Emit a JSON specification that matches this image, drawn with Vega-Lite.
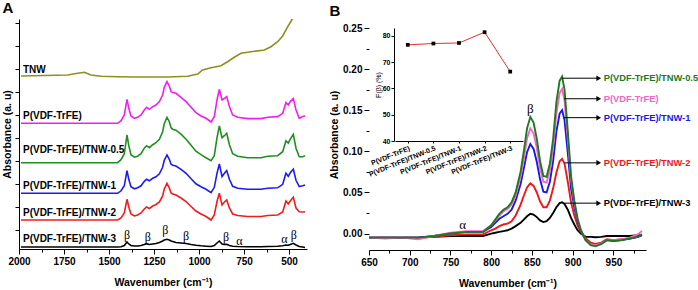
{
  "$schema": "https://vega.github.io/schema/vega-lite/v6.json",
  "padding": {"left": 2, "top": 0, "right": 0, "bottom": 0},
  "config": {
    "font": "Liberation Sans",
    "view": {"stroke": null},
    "axis": {"labelFontWeight": "bold", "titleFontWeight": "bold", "labelColor": "#000", "titleColor": "#000", "domainColor": "#000", "tickColor": "#000", "grid": false, "labelFontSize": 10, "titleFontSize": 10.5},
    "title": {"color": "#000"}
  },
  "datasets": {
    "a5": [
      {"w":1989,"P":12.57,"P05":8.63,"P1":5.57,"P2":2.9,"P3":0.2},
      {"w":1452,"P":12.57,"P05":8.63,"P1":5.57,"P2":2.9,"P3":0.2},
      {"w":1433,"P":12.84,"P05":8.93,"P1":5.82,"P2":3.1,"P3":0.23},
      {"w":1415,"P":13.4,"P05":9.53,"P1":6.32,"P2":3.6,"P3":0.35},
      {"w":1400,"P":14.97,"P05":11.4,"P1":7.84,"P2":4.97,"P3":0.7},
      {"w":1390,"P":14.07,"P05":10.33,"P1":6.97,"P2":4.2,"P3":0.5},
      {"w":1378,"P":13.3,"P05":9.43,"P1":6.22,"P2":3.5,"P3":0.35},
      {"w":1359,"P":13.07,"P05":9.18,"P1":6.02,"P2":3.3,"P3":0.3},
      {"w":1341,"P":13.17,"P05":9.28,"P1":6.12,"P2":3.4,"P3":0.3},
      {"w":1322,"P":13.4,"P05":9.53,"P1":6.32,"P2":3.6,"P3":0.35},
      {"w":1304,"P":13.9,"P05":10.08,"P1":6.77,"P2":4.0,"P3":0.45},
      {"w":1291,"P":14.17,"P05":10.33,"P1":6.97,"P2":4.2,"P3":0.53},
      {"w":1276,"P":13.97,"P05":10.13,"P1":6.82,"P2":4.05,"P3":0.45},
      {"w":1257,"P":14.24,"P05":10.43,"P1":7.07,"P2":4.3,"P3":0.5},
      {"w":1239,"P":14.4,"P05":10.63,"P1":7.22,"P2":4.45,"P3":0.55},
      {"w":1220,"P":14.74,"P05":10.98,"P1":7.52,"P2":4.7,"P3":0.65},
      {"w":1202,"P":15.4,"P05":11.73,"P1":8.17,"P2":5.3,"P3":0.8},
      {"w":1193,"P":16.17,"P05":12.53,"P1":8.87,"P2":6.0,"P3":0.9},
      {"w":1178,"P":16.74,"P05":13.17,"P1":9.4,"P2":6.57,"P3":0.97},
      {"w":1165,"P":16.3,"P05":12.73,"P1":8.97,"P2":6.1,"P3":0.9},
      {"w":1155,"P":15.74,"P05":12.13,"P1":8.47,"P2":5.6,"P3":0.8},
      {"w":1146,"P":15.64,"P05":11.98,"P1":8.37,"P2":5.5,"P3":0.75},
      {"w":1128,"P":15.57,"P05":11.88,"P1":8.3,"P2":5.4,"P3":0.65},
      {"w":1100,"P":15.17,"P05":11.48,"P1":7.97,"P2":5.1,"P3":0.6},
      {"w":1072,"P":14.74,"P05":10.98,"P1":7.57,"P2":4.75,"P3":0.55},
      {"w":1044,"P":14.17,"P05":10.38,"P1":7.02,"P2":4.25,"P3":0.45},
      {"w":1017,"P":13.64,"P05":9.78,"P1":6.52,"P2":3.8,"P3":0.38},
      {"w":989,"P":13.3,"P05":9.43,"P1":6.22,"P2":3.5,"P3":0.32},
      {"w":961,"P":13.07,"P05":9.13,"P1":5.97,"P2":3.25,"P3":0.28},
      {"w":933,"P":12.7,"P05":8.83,"P1":5.64,"P2":2.9,"P3":0.25},
      {"w":915,"P":13.24,"P05":9.33,"P1":6.17,"P2":3.4,"P3":0.35},
      {"w":900,"P":14.9,"P05":11.13,"P1":7.57,"P2":4.75,"P3":0.6},
      {"w":887,"P":15.97,"P05":12.3,"P1":8.5,"P2":5.57,"P3":0.8},
      {"w":872,"P":14.9,"P05":11.13,"P1":7.24,"P2":4.4,"P3":0.5},
      {"w":859,"P":15.07,"P05":11.33,"P1":7.57,"P2":4.7,"P3":0.45},
      {"w":846,"P":15.24,"P05":11.57,"P1":7.84,"P2":4.9,"P3":0.47},
      {"w":831,"P":14.24,"P05":10.43,"P1":6.97,"P2":4.1,"P3":0.35},
      {"w":813,"P":13.4,"P05":9.53,"P1":6.27,"P2":3.5,"P3":0.28},
      {"w":785,"P":13.17,"P05":9.28,"P1":6.07,"P2":3.35,"P3":0.25},
      {"w":730,"P":13.04,"P05":9.13,"P1":5.97,"P2":3.25,"P3":0.23},
      {"w":656,"P":13.04,"P05":9.13,"P1":5.97,"P2":3.25,"P3":0.23},
      {"w":618,"P":13.17,"P05":9.28,"P1":6.07,"P2":3.35,"P3":0.25},
      {"w":563,"P":13.24,"P05":9.33,"P1":6.12,"P2":3.4,"P3":0.28},
      {"w":535,"P":13.57,"P05":9.73,"P1":6.47,"P2":3.7,"P3":0.32},
      {"w":517,"P":14.64,"P05":10.83,"P1":7.57,"P2":4.8,"P3":0.4},
      {"w":504,"P":14.4,"P05":10.58,"P1":7.27,"P2":4.5,"P3":0.38},
      {"w":493,"P":14.74,"P05":10.98,"P1":7.62,"P2":4.8,"P3":0.45},
      {"w":476,"P":15.04,"P05":11.47,"P1":7.97,"P2":5.17,"P3":0.57},
      {"w":461,"P":13.9,"P05":10.08,"P1":6.87,"P2":4.1,"P3":0.4},
      {"w":443,"P":13.07,"P05":9.23,"P1":6.24,"P2":3.73,"P3":0.25},
      {"w":424,"P":13.24,"P05":9.23,"P1":6.32,"P2":3.7,"P3":0.2},
      {"w":411,"P":13.3,"P05":9.33,"P1":6.4,"P2":3.73,"P3":0.15}
    ],
    "tnw": [
      {"w":1989,"a":17.3},{"w":1730,"a":17.4},{"w":1674,"a":17.57},{"w":1637,"a":17.67},
      {"w":1600,"a":17.4},{"w":1544,"a":17.27},{"w":1452,"a":17.23},{"w":1359,"a":17.2},
      {"w":1174,"a":17.2},{"w":1063,"a":17.27},{"w":1007,"a":17.5},{"w":980,"a":17.9},
      {"w":933,"a":18.13},{"w":878,"a":18.33},{"w":841,"a":18.73},{"w":804,"a":19.17},
      {"w":767,"a":19.57},{"w":711,"a":19.73},{"w":637,"a":19.9},{"w":600,"a":20.23},
      {"w":563,"a":20.73},{"w":535,"a":21.3},{"w":507,"a":22.23},{"w":481,"a":23.0}
    ],
    "alab": [
      {"t":"TNW","w":1978,"a":17.9},
      {"t":"P(VDF-TrFE)","w":1978,"a":13.3},
      {"t":"P(VDF-TrFE)/TNW-0.5","w":1978,"a":9.9},
      {"t":"P(VDF-TrFE)/TNW-1","w":1978,"a":6.3},
      {"t":"P(VDF-TrFE)/TNW-2","w":1978,"a":3.63},
      {"t":"P(VDF-TrFE)/TNW-3","w":1978,"a":0.97}
    ],
    "agr": [
      {"t":"β","w":1400,"a":1.4},{"t":"β","w":1285,"a":1.23},{"t":"β","w":1187,"a":1.9},
      {"t":"β","w":1072,"a":1.3},{"t":"β","w":850,"a":1.2},{"t":"α","w":776,"a":0.83},
      {"t":"α","w":526,"a":0.97},{"t":"β","w":474,"a":1.4}
    ],
    "b5": [
      {"w":650,"G":-0.005,"Pk":-0.005,"Bl":-0.005,"R":-0.005,"K":-0.005},
      {"w":670,"G":-0.005,"Pk":-0.006,"Bl":-0.005,"R":-0.005,"K":-0.005},
      {"w":690,"G":-0.005,"Pk":-0.005,"Bl":-0.005,"R":-0.005,"K":-0.005},
      {"w":710,"G":-0.005,"Pk":-0.007,"Bl":-0.005,"R":-0.005,"K":-0.005},
      {"w":730,"G":-0.003,"Pk":-0.003,"Bl":-0.003,"R":-0.004,"K":-0.004},
      {"w":750,"G":0.0,"Pk":0.001,"Bl":0.0,"R":-0.002,"K":-0.003},
      {"w":770,"G":0.002,"Pk":0.003,"Bl":0.002,"R":-0.001,"K":-0.003},
      {"w":790,"G":0.002,"Pk":0.003,"Bl":0.002,"R":-0.001,"K":-0.003},
      {"w":800,"G":0.01,"Pk":0.01,"Bl":0.008,"R":0.004,"K":0.0},
      {"w":805,"G":0.017,"Pk":0.016,"Bl":0.013,"R":0.006,"K":0.001},
      {"w":810,"G":0.024,"Pk":0.022,"Bl":0.018,"R":0.009,"K":0.002},
      {"w":815,"G":0.029,"Pk":0.027,"Bl":0.021,"R":0.011,"K":0.003},
      {"w":820,"G":0.032,"Pk":0.03,"Bl":0.024,"R":0.012,"K":0.004},
      {"w":825,"G":0.038,"Pk":0.035,"Bl":0.029,"R":0.015,"K":0.006},
      {"w":830,"G":0.05,"Pk":0.046,"Bl":0.04,"R":0.022,"K":0.009},
      {"w":836,"G":0.075,"Pk":0.069,"Bl":0.06,"R":0.035,"K":0.013},
      {"w":840,"G":0.1,"Pk":0.091,"Bl":0.079,"R":0.046,"K":0.017},
      {"w":844,"G":0.128,"Pk":0.116,"Bl":0.099,"R":0.056,"K":0.021},
      {"w":848,"G":0.142,"Pk":0.128,"Bl":0.109,"R":0.061,"K":0.024},
      {"w":852,"G":0.135,"Pk":0.122,"Bl":0.103,"R":0.058,"K":0.023},
      {"w":856,"G":0.115,"Pk":0.104,"Bl":0.087,"R":0.05,"K":0.02},
      {"w":860,"G":0.088,"Pk":0.08,"Bl":0.066,"R":0.039,"K":0.016},
      {"w":864,"G":0.07,"Pk":0.063,"Bl":0.051,"R":0.032,"K":0.014},
      {"w":868,"G":0.069,"Pk":0.062,"Bl":0.05,"R":0.032,"K":0.015},
      {"w":872,"G":0.085,"Pk":0.077,"Bl":0.063,"R":0.04,"K":0.019},
      {"w":876,"G":0.115,"Pk":0.105,"Bl":0.088,"R":0.055,"K":0.025},
      {"w":880,"G":0.16,"Pk":0.146,"Bl":0.124,"R":0.074,"K":0.032},
      {"w":884,"G":0.186,"Pk":0.171,"Bl":0.146,"R":0.088,"K":0.037},
      {"w":887,"G":0.191,"Pk":0.176,"Bl":0.15,"R":0.091,"K":0.038},
      {"w":890,"G":0.175,"Pk":0.162,"Bl":0.138,"R":0.085,"K":0.036},
      {"w":894,"G":0.125,"Pk":0.116,"Bl":0.098,"R":0.063,"K":0.029},
      {"w":898,"G":0.07,"Pk":0.066,"Bl":0.055,"R":0.038,"K":0.019},
      {"w":902,"G":0.04,"Pk":0.038,"Bl":0.032,"R":0.022,"K":0.011},
      {"w":906,"G":0.018,"Pk":0.018,"Bl":0.015,"R":0.01,"K":0.004},
      {"w":910,"G":0.004,"Pk":0.005,"Bl":0.003,"R":0.002,"K":0.0},
      {"w":916,"G":-0.008,"Pk":-0.008,"Bl":-0.008,"R":-0.006,"K":-0.004},
      {"w":922,"G":-0.014,"Pk":-0.013,"Bl":-0.013,"R":-0.011,"K":-0.004},
      {"w":928,"G":-0.0155,"Pk":-0.014,"Bl":-0.014,"R":-0.0125,"K":-0.0045},
      {"w":935,"G":-0.013,"Pk":-0.012,"Bl":-0.012,"R":-0.011,"K":-0.004},
      {"w":942,"G":-0.008,"Pk":-0.008,"Bl":-0.008,"R":-0.007,"K":-0.003},
      {"w":950,"G":-0.009,"Pk":-0.008,"Bl":-0.009,"R":-0.008,"K":-0.003},
      {"w":960,"G":-0.008,"Pk":-0.007,"Bl":-0.008,"R":-0.007,"K":-0.003},
      {"w":970,"G":-0.006,"Pk":-0.005,"Bl":-0.006,"R":-0.006,"K":-0.003},
      {"w":980,"G":-0.004,"Pk":-0.001,"Bl":-0.004,"R":-0.004,"K":-0.002},
      {"w":985,"G":-0.001,"Pk":0.003,"Bl":-0.002,"R":-0.002,"K":-0.002}
    ],
    "arr": [
      {"s":"G","t":"P(VDF-TrFE)/TNW-0.5","w":887,"w2":932,"a":0.189},
      {"s":"Pk","t":"P(VDF-TrFE)","w":889.5,"w2":932,"a":0.164},
      {"s":"Bl","t":"P(VDF-TrFE)/TNW-1","w":889,"w2":932,"a":0.141},
      {"s":"R","t":"P(VDF-TrFE)/TNW-2","w":890,"w2":932,"a":0.086},
      {"s":"K","t":"P(VDF-TrFE)/TNW-3","w":890,"w2":932,"a":0.037}
    ],
    "bgr": [
      {"t":"β","w":848,"a":0.151},
      {"t":"α","w":765,"a":0.011}
    ],
    "baxis": [
      {"a":-0.02,"a2":0.25}
    ],
    "fb": [
      {"s":"P(VDF-TrFE)","f":76.6},
      {"s":"P(VDF-TrFE)/TNW-0.5","f":77.1},
      {"s":"P(VDF-TrFE)/TNW-1","f":77.3},
      {"s":"P(VDF-TrFE)/TNW-2","f":81.4},
      {"s":"P(VDF-TrFE)/TNW-3","f":66.4}
    ]
  },
  "spacing": 20,
  "resolve": {"scale": {"color": "independent"}},
  "hconcat": [
    {
      "title": {"text": "A", "anchor": "start", "fontSize": 15, "fontWeight": "bold", "offset": 0},
      "width": 288,
      "height": 230,
      "encoding": {
        "x": {"field": "w", "type": "quantitative", "title": "Wavenumber (cm⁻¹)",
          "scale": {"domain": [400, 2000], "reverse": true, "nice": false},
          "axis": {"values": [2000,1875,1750,1625,1500,1375,1250,1125,1000,875,750,625,500], "format": "d",
            "labelFlush": false,
            "labelExpr": "datum.value % 250 === 0 ? datum.label : ''",
            "tickSize": {"condition": {"test": "datum.value % 250 === 0", "value": 5}, "value": 3},
            "labelPadding": 2, "titlePadding": 11}},
        "y": {"field": "a", "type": "quantitative", "title": "Absorbance (a. u)",
          "scale": {"domain": [0, 23], "nice": false},
          "axis": {"labels": false, "values": [1.9,4.2,6.5,8.8,11.1,13.4,15.7,18,20.3,22.6], "tickSize": 4, "titlePadding": 2}}
      },
      "layer": [
        {
          "data": {"name": "a5"},
          "transform": [{"fold": ["P3","P2","P1","P05","P"], "as": ["s", "a"]}],
          "mark": {"type": "line", "strokeWidth": 1.6},
          "encoding": {
            "color": {"field": "s", "type": "nominal", "legend": null,
              "scale": {"domain": ["P","P05","P1","P2","P3"], "range": ["#f01ef0","#1f8f1f","#1c1cf0","#f01c1c","#000000"]}}
          }
        },
        {
          "data": {"name": "tnw"},
          "mark": {"type": "line", "strokeWidth": 1.6, "color": "#8f8f1f"},
          "encoding": {}
        },
        {
          "data": {"name": "alab"},
          "mark": {"type": "text", "align": "left", "baseline": "middle", "fontSize": 10, "fontWeight": "bold", "color": "#000"},
          "encoding": {"text": {"field": "t"}}
        },
        {
          "data": {"name": "agr"},
          "mark": {"type": "text", "align": "center", "baseline": "middle", "fontSize": 12, "font": "Liberation Serif", "color": "#000"},
          "encoding": {"text": {"field": "t"}}
        }
      ]
    },
    {
      "title": {"text": "B", "anchor": "start", "fontSize": 15, "fontWeight": "bold", "offset": 0},
      "width": 277,
      "height": 231,
      "layer": [
        {
          "encoding": {
            "x": {"field": "w", "type": "quantitative", "title": "Wavenumber (cm⁻¹)",
              "scale": {"domain": [650, 990], "nice": false},
              "axis": {"values": [650,675,700,725,750,775,800,825,850,875,900,925,950,975],
                "labelFlush": false,
                "labelExpr": "datum.value % 50 === 0 ? datum.label : ''",
                "tickSize": {"condition": {"test": "datum.value % 50 === 0", "value": 5}, "value": 3},
                "labelPadding": 2, "titlePadding": 11}},
            "y": {"field": "a", "type": "quantitative", "title": "Absorbance (a. u)",
              "scale": {"domain": [-0.02, 0.261], "nice": false},
              "axis": {"values": [0,0.025,0.05,0.075,0.1,0.125,0.15,0.175,0.2,0.225,0.25],
                "domain": false,
                "labelExpr": "round(datum.value*1000) % 50 === 0 ? format(datum.value, '.2f') : ''",
                "tickSize": {"condition": {"test": "round(datum.value*1000) % 50 === 0", "value": 5}, "value": 3},
                "labelPadding": 2, "titlePadding": 3}}
          },
          "layer": [
            {
              "data": {"name": "baxis"},
              "mark": {"type": "rule", "color": "#000", "strokeWidth": 1, "xOffset": 0.5},
              "encoding": {"x": {"datum": 650, "type": "quantitative"}, "y2": {"field": "a2"}}
            },
            {
              "data": {"name": "b5"},
              "transform": [{"fold": ["K","R","Bl","Pk","G"], "as": ["s", "a"]}],
              "mark": {"type": "line", "strokeWidth": 1.9},
              "encoding": {
                "color": {"field": "s", "type": "nominal", "legend": null,
                  "scale": {"domain": ["G","Pk","Bl","R","K"], "range": ["#1d7a1d","#f266c4","#1818e8","#ee1818","#000000"]}}
              }
            },
            {
              "data": {"name": "arr"},
              "mark": {"type": "rule", "color": "#000", "strokeWidth": 1},
              "encoding": {"x2": {"field": "w2"}}
            },
            {
              "data": {"name": "arr"},
              "mark": {"type": "point", "shape": "triangle-right", "filled": true, "color": "#000", "size": 30, "opacity": 1},
              "encoding": {"x": {"field": "w2", "type": "quantitative"}}
            },
            {
              "data": {"name": "arr"},
              "mark": {"type": "text", "align": "left", "baseline": "middle", "fontSize": 9.3, "fontWeight": "bold", "dx": 5},
              "encoding": {"x": {"field": "w2", "type": "quantitative"}, "text": {"field": "t"},
                "color": {"field": "s", "type": "nominal", "legend": null}}
            },
            {
              "data": {"name": "bgr"},
              "mark": {"type": "text", "align": "center", "baseline": "middle", "fontSize": 13, "font": "Liberation Serif", "color": "#000"},
              "encoding": {"text": {"field": "t"}}
            }
          ]
        },
        {
          "data": {"name": "fb"},
          "encoding": {
            "x": {"field": "s", "type": "nominal", "sort": null,
              "scale": {"type": "point", "range": [26, 154], "padding": 0.5},
              "axis": {"orient": "bottom", "offset": -109, "title": null, "labelAngle": -22, "labelAlign": "right", "labelBaseline": "top", "labelFontSize": 7, "tickSize": 2, "labelPadding": 1}},
            "y": {"field": "f", "type": "quantitative",
              "scale": {"domain": [40, 83], "range": [122, 9], "nice": false},
              "axis": {"orient": "left", "offset": -25, "values": [40,50,60,70,80], "title": "F(β) (%)", "titleFontSize": 7, "titleFontWeight": "normal", "labelFontSize": 7, "tickSize": 3, "titlePadding": 1, "labelPadding": 1}}
          },
          "layer": [
            {"mark": {"type": "line", "color": "#e53030", "strokeWidth": 1}},
            {"mark": {"type": "square", "color": "#000", "size": 14, "opacity": 1}}
          ]
        }
      ],
      "resolve": {"scale": {"x": "independent", "y": "independent"}, "axis": {"x": "independent", "y": "independent"}}
    }
  ]
}
